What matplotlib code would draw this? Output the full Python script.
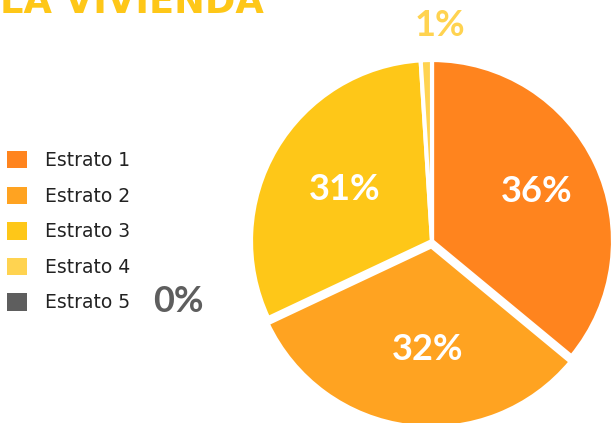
import matplotlib
matplotlib.use("Agg")
import matplotlib.pyplot as plt
from matplotlib.patches import Patch
import numpy as np

categories = ["Estrato 1", "Estrato 2", "Estrato 3", "Estrato 4", "Estrato 5"]
values = [36, 32, 31, 1, 0]
labels = ["36%", "32%", "31%", "1%", "0%"]
colors = ["#FF841E", "#FFA321", "#FEC718", "#FFD350", "#5E5E5E"]
title = "LA VIVIENDA"

W, H = 615, 423
fig = plt.figure(figsize=(W / 100, H / 100), dpi=100)
fig.patch.set_facecolor("white")

cx, cy, r = 432, 241, 181
ax = fig.add_axes([(cx - r) / W, (H - cy - r) / H, 2 * r / W, 2 * r / H])
explode = [0.0, 0.03, 0.0, 0.0, 0.0]
wedges, _ = ax.pie(values[:4], colors=colors[:4], startangle=90, counterclock=False,
                   explode=explode[:4],
                   wedgeprops=dict(edgecolor="white", linewidth=3))
for w in wedges:
    w.set_clip_on(False)
ax.set_xlim(-1, 1)
ax.set_ylim(-1, 1)
ax.set_aspect("equal")
ax.axis("off")

pct_font = dict(family=["Lato", "DejaVu Sans"], fontweight="bold", fontsize=26)
dists = [0.64, 0.6, 0.56, 1.19]
angle_shift = [0, 5, 0, -4]
for w, lab, d, sh, i in zip(wedges, labels[:4], dists, angle_shift, range(4)):
    ang = np.deg2rad((w.theta1 + w.theta2) / 2 + sh)
    col = "white" if i < 3 else "#FFD350"
    ax.text(d * np.cos(ang), d * np.sin(ang), lab, ha="center", va="center",
            color=col, clip_on=False, **pct_font)

# Title (cut off at top, as in the reference)
fig.text(0 / W, 1 - 13 / H, title, ha="left", va="baseline", color="#FEC718",
         fontsize=26.5, fontweight="bold", family=["DejaVu Sans"])

# Legend
handles = [Patch(facecolor=c, edgecolor="none") for c in colors]
leg = fig.legend(handles, categories, loc="upper left",
                 bbox_to_anchor=(7 / W, 1 - 151 / H), frameon=False,
                 prop=dict(family=["DejaVu Sans"], size=13.5),
                 handlelength=1.05, handleheight=1.05, handletextpad=1.0,
                 labelspacing=0.88, borderpad=0, borderaxespad=0)
for t in leg.get_texts():
    t.set_color("#222222")

fig.text(178 / W, 1 - 301 / H, labels[4], ha="center", va="center",
         color="#5E5E5E", **pct_font)

fig.savefig("out.png", dpi=100, facecolor="white")
